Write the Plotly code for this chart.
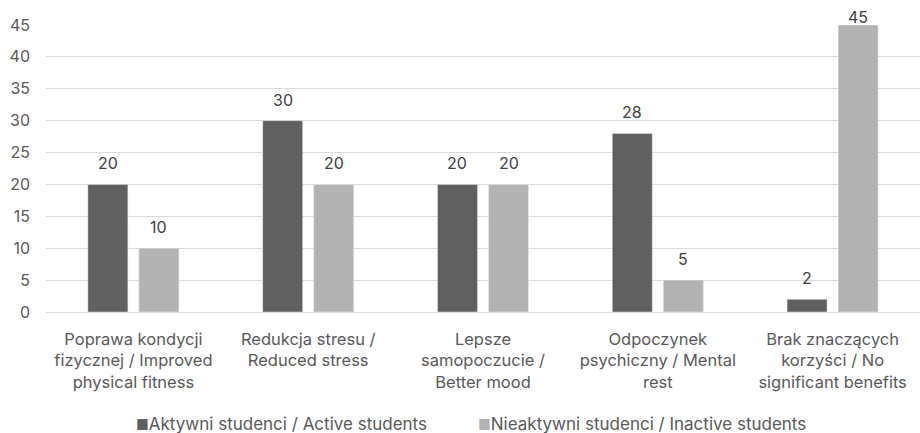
import plotly.graph_objects as go

categories = [
    "Poprawa kondycji<br>fizycznej / Improved<br>physical fitness",
    "Redukcja stresu /<br>Reduced stress",
    "Lepsze<br>samopoczucie /<br>Better mood",
    "Odpoczynek<br>psychiczny / Mental<br>rest",
    "Brak znaczących<br>korzyści / No<br>significant benefits",
]
series_names = [
    "Aktywni studenci / Active students",
    "Nieaktywni studenci / Inactive students",
]
active = [20, 30, 20, 28, 2]
inactive = [10, 20, 20, 5, 45]
y_ticks = [0, 5, 10, 15, 20, 25, 30, 35, 40, 45]

FONT = "Inter, Open Sans, sans-serif"
TEXT = "#595959"
LABEL = "#404040"
COLORS = ["#606060", "#b3b3b3"]
Y_MAX = 45
BARGAP = 0.416

fig = go.Figure()
for name, vals, col in zip(series_names, [active, inactive], COLORS):
    fig.add_trace(go.Bar(x=categories, y=vals, name=name,
                         marker=dict(color=col), showlegend=False))

# value labels above each bar (the tallest label is tucked into the chart area)
slot = (1 - BARGAP) / 2
annotations = []
for k, vals in enumerate([active, inactive]):
    offset = (k - 0.5) * slot
    for i, v in enumerate(vals):
        near_top = v > Y_MAX - 2
        annotations.append(dict(
            x=i + offset, y=v, xref="x", yref="y", text=str(v),
            showarrow=False, yanchor="bottom", yshift=-4 if near_top else 9,
            font=dict(size=16, color=LABEL, family=FONT),
        ))

# legend row drawn as text with coloured squares
legend_y = (312 - 424) / 287
for name, col, xpos in zip(series_names, COLORS, [0.1007, 0.492]):
    annotations.append(dict(
        x=xpos, y=legend_y, xref="paper", yref="paper",
        xanchor="left", yanchor="middle", showarrow=False,
        text=f'<span style="color:{col};font-size:14px">■</span>{name}',
        font=dict(size=17, color=TEXT, family=FONT),
    ))

fig.update_layout(
    width=920, height=433,
    margin=dict(l=46, r=0, t=25, b=121),
    paper_bgcolor="white", plot_bgcolor="white",
    barmode="group", bargap=BARGAP, bargroupgap=0.216,
    font=dict(family=FONT, size=16, color=TEXT),
    showlegend=False,
    annotations=annotations,
)
fig.update_yaxes(
    range=[0, Y_MAX], tickvals=y_ticks, showgrid=True, gridcolor="#d9d9d9",
    gridwidth=1.3, zeroline=False, showline=False, automargin=False,
    ticklabelstandoff=15, tickfont=dict(size=16, color=TEXT),
)
fig.update_xaxes(
    showline=True, linecolor="#d9d9d9", linewidth=1.3, automargin=False,
    ticks="", tickfont=dict(size=16.5, color=TEXT), ticklabelstandoff=12,
    tickangle=0,
)

fig.write_html("out.html")
